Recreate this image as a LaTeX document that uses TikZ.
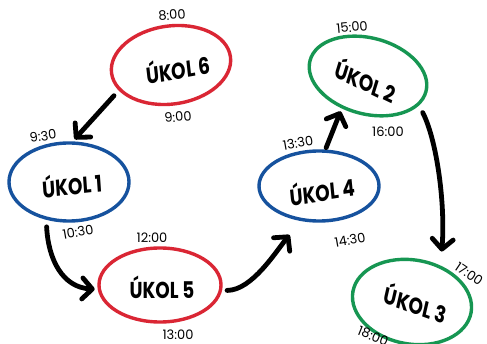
\documentclass[tikz,border=0pt]{standalone}
\usepackage{fontspec}
\setmainfont{Poppins}
\usetikzlibrary{shapes.geometric,arrows.meta}
\definecolor{ured}{RGB}{218,38,52}
\definecolor{ublue}{RGB}{22,82,158}
\definecolor{ugreen}{RGB}{22,150,82}
\begin{document}
\begin{tikzpicture}[x=1pt,y=-1pt,
  task/.style={ellipse, draw, line width=3.4pt, minimum width=120pt, minimum height=78pt, inner sep=0pt},
  title/.style={font=\fontsize{23}{23}\selectfont\bfseries, inner sep=0pt, xscale=.8},
  time/.style={font=\fontsize{13}{13}\selectfont, inner sep=0pt},
  flow/.style={line width=4.8pt, line cap=round, -{Straight Barb[length=10pt,width=21pt,round]}}
]
\useasboundingbox[fill=white] (0,0) rectangle (487,344);
% tasks
\node[task, draw=ured, rotate=8] (u6) at (171,65) {};
\node[title, rotate=8] (t6) at (178,68) {ÚKOL 6};
\node[task, draw=ublue] (u1) at (69,182) {};
\node[title, rotate=5] (t1) at (72,184) {ÚKOL 1};
\node[task, draw=ured, minimum height=74pt, minimum width=122pt] (u5) at (160,285) {};
\node[title] (t5) at (162,287) {ÚKOL 5};
\node[task, draw=ublue, minimum height=70pt] (u4) at (319,186) {};
\node[title, rotate=7] (t4) at (322,190) {ÚKOL 4};
\node[task, draw=ugreen, rotate=-15, minimum height=76pt] (u2) at (368,76) {};
\node[title, rotate=-21] (t2) at (366,80) {ÚKOL 2};
\node[task, draw=ugreen, rotate=-10, minimum height=84pt] (u3) at (412,302) {};
\node[title, rotate=-16] (t3) at (416,303) {ÚKOL 3};
% times
\node[time, rotate=5] (a8) at (172,15) {8:00};
\node[time, rotate=5] (a9) at (178,117) {9:00};
\node[time, rotate=8] (a930) at (43,136) {9:30};
\node[time, rotate=10] (a1030) at (78,232) {10:30};
\node[time] (a12) at (152,238) {12:00};
\node[time] (a13) at (178,335) {13:00};
\node[time, rotate=10] (a1330) at (298,143) {13:30};
\node[time, rotate=10] (a1430) at (350,240) {14:30};
\node[time, rotate=5] (a15) at (352,27) {15:00};
\node[time] (a16) at (388,132) {16:00};
\node[time, rotate=-34] (a17) at (469,274) {17:00};
\node[time, rotate=-22] (a18) at (373,336) {18:00};
% arrows
\draw[flow, shorten <=7pt, shorten >=3pt] (u6.198) -- (u1.85);
\draw[flow, shorten <=7pt, shorten >=3pt] (u1.239) .. controls +(2,40) and +(-35,-2) .. (u5.184);
\draw[flow, shorten <=5pt, shorten >=18pt] (u5.-5) .. controls +(30,0) and +(-25,30) .. (u4.243);
\draw[flow, shorten <=2pt, shorten >=3pt] (u4.80) -- (u2.246);
\draw[flow, shorten <=8pt, shorten >=14pt] (u2.345) .. controls +(18,35) and +(5,-60) .. (u3.62);
\end{tikzpicture}
\end{document}
